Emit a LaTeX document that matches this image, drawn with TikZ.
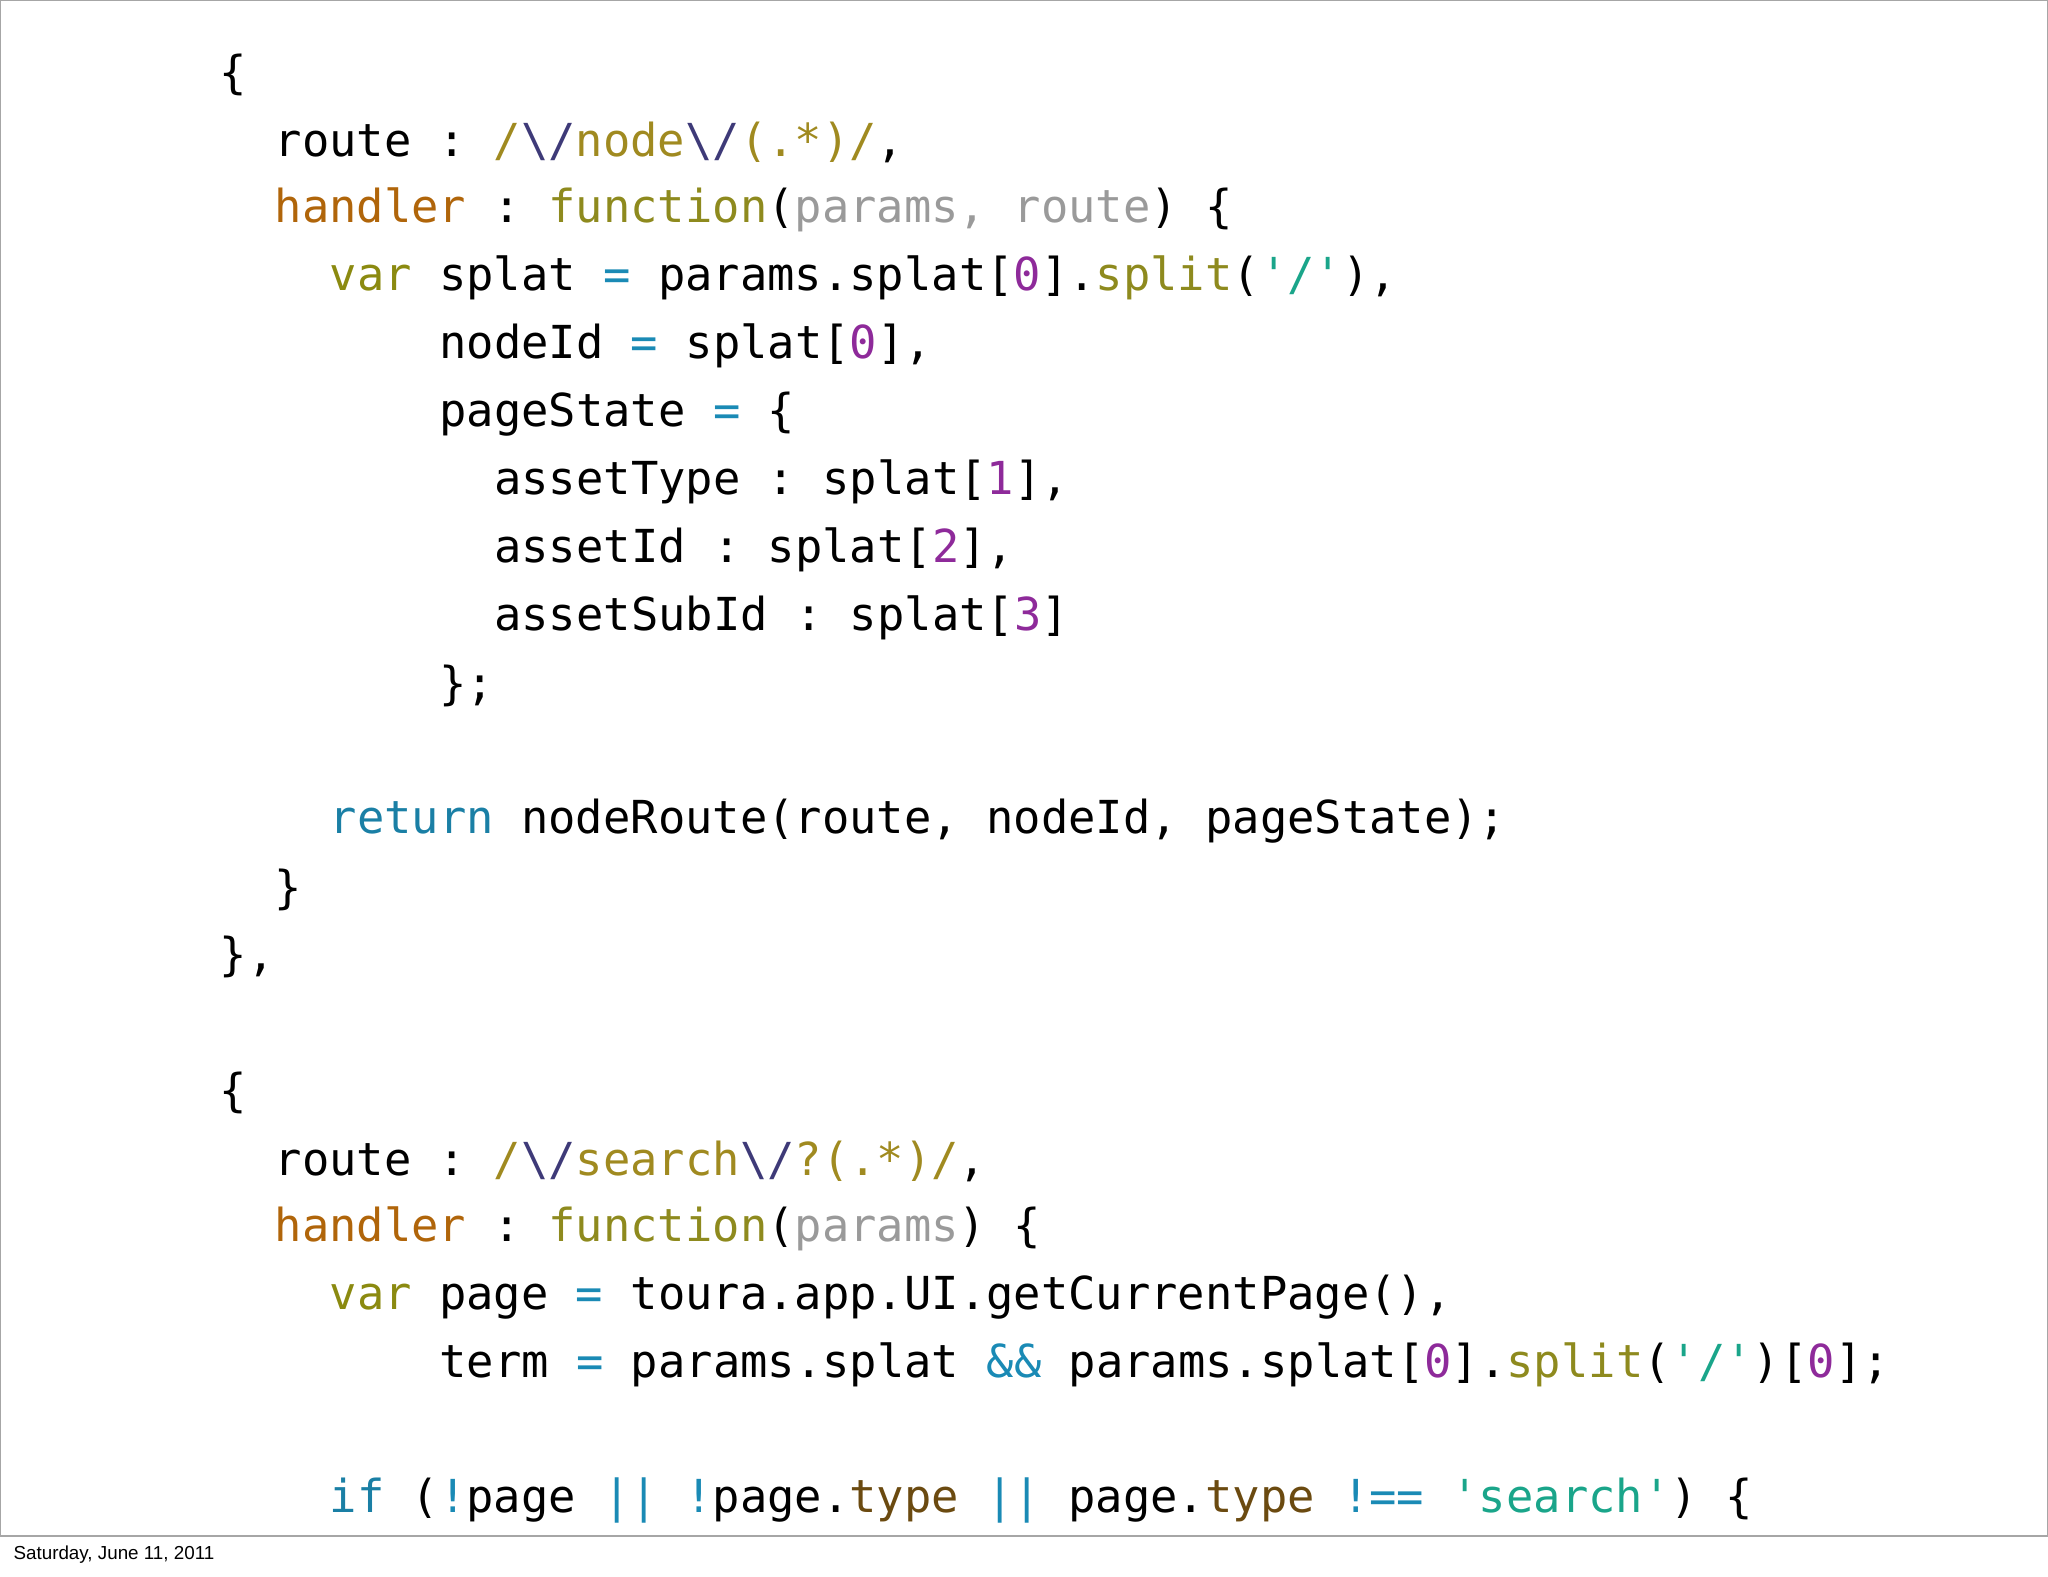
\documentclass[tikz,border=0pt]{standalone}
\usepackage{fontspec}
\setmainfont{Liberation Sans}
\setmonofont{DejaVu Sans Mono}
\definecolor{rx}{HTML}{A08A20}
\definecolor{esc}{HTML}{3E3A78}
\definecolor{hd}{HTML}{B0650A}
\definecolor{fn}{HTML}{8E8A1E}
\definecolor{pm}{HTML}{9A9A9A}
\definecolor{kw}{HTML}{8B8A10}
\definecolor{op}{HTML}{1A8AB5}
\definecolor{num}{HTML}{8E2A9A}
\definecolor{str}{HTML}{1AA58A}
\definecolor{ret}{HTML}{1A7FA5}
\definecolor{ty}{HTML}{6B4A10}
\newcommand\Crx[1]{\textcolor{rx}{#1}}
\newcommand\Cesc[1]{\textcolor{esc}{#1}}
\newcommand\Chd[1]{\textcolor{hd}{#1}}
\newcommand\Cfn[1]{\textcolor{fn}{#1}}
\newcommand\Cpm[1]{\textcolor{pm}{#1}}
\newcommand\Ckw[1]{\textcolor{kw}{#1}}
\newcommand\Cop[1]{\textcolor{op}{#1}}
\newcommand\Cnum[1]{\textcolor{num}{#1}}
\newcommand\Cstr[1]{\textcolor{str}{#1}}
\newcommand\Cret[1]{\textcolor{ret}{#1}}
\newcommand\Cty[1]{\textcolor{ty}{#1}}
\newcommand\Q{\textquotesingle}
\newcommand\BS{\textbackslash}
\begin{document}
\begin{tikzpicture}[x=0.5pt,y=-0.5pt,
  code/.style={anchor=west,inner sep=0pt,font=\ttfamily\fontsize{17.4}{20}\selectfont}]
\useasboundingbox (0,0) rectangle (1568,1207);
\draw[gray!70,line width=0.6pt] (0.5,0.5) rectangle (1567.5,1176);
\node[anchor=west,inner sep=0pt,font=\fontsize{7.2}{9}\selectfont] (date) at (10,1190) {Saturday, June 11, 2011};
\def\X#1{\numexpr168+21*#1\relax}
\node[code] (l1) at (168,57) {\{};
\node[code] (l2) at (210,109) {route : \Crx{/}\Cesc{\BS/}\Crx{node}\Cesc{\BS/}\Crx{(.*)/},};
\node[code] (l3) at (210,161) {\Chd{handler} : \Cfn{function}(\Cpm{params, route}) \{};
\node[code] (l4) at (252,213) {\Ckw{var} splat \Cop{=} params.splat[\Cnum{0}].\Cfn{split}(\Cstr{\Q/\Q}),};
\node[code] (l5) at (336,265) {nodeId \Cop{=} splat[\Cnum{0}],};
\node[code] (l6) at (336,317) {pageState \Cop{=} \{};
\node[code] (l7) at (378,369) {assetType : splat[\Cnum{1}],};
\node[code] (l8) at (378,421) {assetId : splat[\Cnum{2}],};
\node[code] (l9) at (378,473) {assetSubId : splat[\Cnum{3}]};
\node[code] (l10) at (336,525) {\};};
\node[code] (l11) at (252,629) {\Cret{return} nodeRoute(route, nodeId, pageState);};
\node[code] (l12) at (210,681) {\}};
\node[code] (l13) at (168,733) {\},};
\node[code] (m1) at (168,837) {\{};
\node[code] (m2) at (210,889) {route : \Crx{/}\Cesc{\BS/}\Crx{search}\Cesc{\BS/}\Crx{?(.*)/},};
\node[code] (m3) at (210,941) {\Chd{handler} : \Cfn{function}(\Cpm{params}) \{};
\node[code] (m4) at (252,993) {\Ckw{var} page \Cop{=} toura.app.UI.getCurrentPage(),};
\node[code] (m5) at (336,1045) {term \Cop{=} params.splat \Cop{\&\&} params.splat[\Cnum{0}].\Cfn{split}(\Cstr{\Q/\Q})[\Cnum{0}];};
\node[code] (m6) at (252,1149) {\Cret{if} (\Cop{!}page \Cop{||} \Cop{!}page.\Cty{type} \Cop{||} page.\Cty{type} \Cop{!==} \Cstr{\Q search\Q}) \{};
\end{tikzpicture}
\end{document}
